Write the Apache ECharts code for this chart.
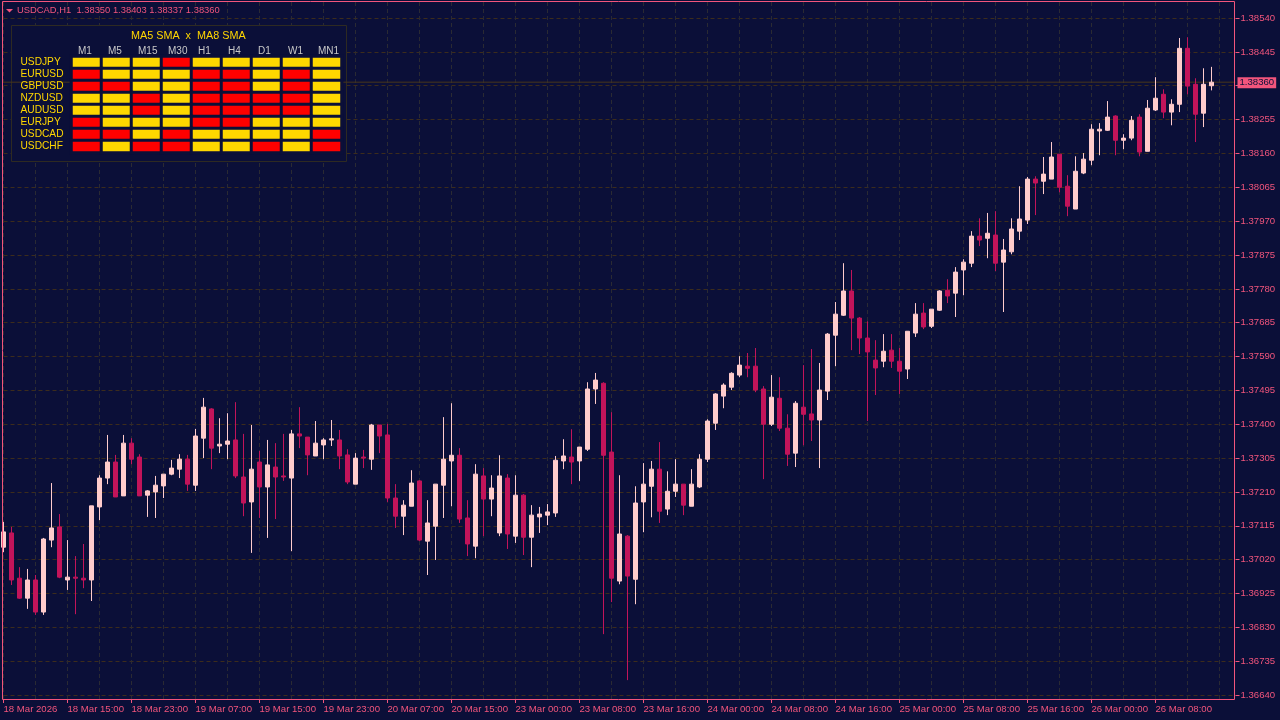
<!DOCTYPE html>
<html>
<head>
<meta charset="utf-8">
<style>html,body{margin:0;padding:0;background:#0b0f38}#c{width:1280px;height:720px}</style>
<script src="https://cdn.jsdelivr.net/npm/echarts@6/dist/echarts.min.js"></script>
</head>
<body>
<div id="c"></div>
<script>
const opens = [
1.37055,1.37095,1.36968,1.36912,1.36963,1.36873,1.37075,1.37112,1.36963,1.36971,
1.36968,1.36963,1.37168,1.37249,1.37294,1.37199,1.37347,1.37308,1.37201,1.37210,
1.37227,1.37260,1.37274,1.37302,1.37229,1.37361,1.37443,1.37339,1.37344,1.37356,
1.37252,1.37182,1.37294,1.37224,1.37280,1.37255,1.37249,1.37373,1.37364,1.37311,
1.37342,1.37356,1.37356,1.37314,1.37232,1.37308,1.37302,1.37398,1.37370,1.37193,
1.37142,1.37170,1.37241,1.37072,1.37114,1.37229,1.37297,1.37313,1.37137,1.37058,
1.37255,1.37190,1.37095,1.37249,1.37086,1.37201,1.37083,1.37140,1.37145,1.37151,
1.37297,1.37308,1.37297,1.37330,1.37499,1.37515,1.37322,1.36960,1.37086,1.36965,
1.37182,1.37226,1.37274,1.37162,1.37212,1.37232,1.37170,1.37224,1.37302,1.37403,
1.37479,1.37504,1.37538,1.37563,1.37563,1.37499,1.37400,1.37473,1.37389,1.37319,
1.37448,1.37429,1.37412,1.37493,1.37650,1.37706,1.37774,1.37698,1.37642,1.37580,
1.37577,1.37608,1.37577,1.37555,1.37656,1.37712,1.37675,1.37720,1.37776,1.37768,
1.37833,1.37852,1.37928,1.37922,1.37931,1.37855,1.37884,1.37942,1.37973,1.38088,
1.38082,1.38088,1.38158,1.38068,1.38004,1.38105,1.38141,1.38223,1.38225,1.38265,
1.38197,1.38203,1.38262,1.38166,1.38282,1.38326,1.38276,1.38298,1.38455,1.38354,
1.38273,1.38350];
const closes = [
1.37098,1.36963,1.36912,1.36963,1.36873,1.37078,1.37109,1.36971,1.36971,1.36968,
1.36963,1.37171,1.37249,1.37294,1.37196,1.37347,1.37302,1.37199,1.37213,1.37229,
1.37260,1.37277,1.37302,1.37232,1.37367,1.37448,1.37333,1.37344,1.37353,1.37255,
1.37179,1.37274,1.37224,1.37286,1.37252,1.37252,1.37373,1.37367,1.37314,1.37347,
1.37356,1.37359,1.37311,1.37238,1.37305,1.37305,1.37398,1.37367,1.37193,1.37142,
1.37173,1.37235,1.37075,1.37123,1.37232,1.37302,1.37313,1.37134,1.37064,1.37260,
1.37190,1.37221,1.37255,1.37092,1.37201,1.37083,1.37145,1.37148,1.37154,1.37299,
1.37311,1.37294,1.37336,1.37499,1.37524,1.37313,1.36968,1.37092,1.36974,1.37179,
1.37232,1.37274,1.37156,1.37212,1.37232,1.37173,1.37232,1.37302,1.37409,1.37485,
1.37510,1.37543,1.37566,1.37557,1.37496,1.37400,1.37476,1.37389,1.37316,1.37459,
1.37428,1.37412,1.37496,1.37653,1.37709,1.37774,1.37698,1.37642,1.37603,1.37558,
1.37605,1.37577,1.37549,1.37661,1.37709,1.37673,1.37723,1.37774,1.37760,1.37827,
1.37855,1.37928,1.37917,1.37936,1.37852,1.37889,1.37948,1.37976,1.38088,1.38077,
1.38102,1.38150,1.38065,1.38012,1.38110,1.38144,1.38228,1.38228,1.38262,1.38197,
1.38203,1.38253,1.38164,1.38287,1.38315,1.38276,1.38298,1.38455,1.38349,1.38270,
1.38354,1.38360];
const highs = [
1.37126,1.37112,1.36999,1.36994,1.36977,1.37081,1.37235,1.37148,1.37075,1.37030,
1.37064,1.37171,1.37257,1.37370,1.37314,1.37370,1.37361,1.37316,1.37215,1.37255,
1.37260,1.37300,1.37316,1.37314,1.37387,1.37474,1.37445,1.37417,1.37431,1.37462,
1.37373,1.37398,1.37325,1.37356,1.37347,1.37373,1.37384,1.37448,1.37364,1.37409,
1.37361,1.37412,1.37384,1.37330,1.37319,1.37328,1.37401,1.37398,1.37401,1.37232,
1.37187,1.37271,1.37243,1.37187,1.37232,1.37420,1.37459,1.37333,1.37187,1.37288,
1.37277,1.37257,1.37313,1.37260,1.37257,1.37204,1.37173,1.37168,1.37176,1.37311,
1.37358,1.37386,1.37336,1.37518,1.37544,1.37518,1.37434,1.37257,1.37089,1.37226,
1.37291,1.37297,1.37350,1.37268,1.37302,1.37232,1.37274,1.37316,1.37414,1.37487,
1.37515,1.37546,1.37591,1.37600,1.37614,1.37507,1.37538,1.37532,1.37428,1.37465,
1.37566,1.37611,1.37572,1.37656,1.37743,1.37852,1.37833,1.37701,1.37689,1.37636,
1.37653,1.37653,1.37614,1.37661,1.37740,1.37740,1.37723,1.37776,1.37807,1.37841,
1.37863,1.37942,1.37978,1.37993,1.37998,1.37920,1.37978,1.38068,1.38094,1.38096,
1.38150,1.38192,1.38158,1.38099,1.38152,1.38161,1.38242,1.38245,1.38307,1.38267,
1.38214,1.38265,1.38270,1.38310,1.38374,1.38340,1.38312,1.38484,1.38486,1.38371,
1.38399,1.38403];
const lows = [
1.37041,1.36949,1.36910,1.36882,1.36865,1.36865,1.37055,1.36968,1.36935,1.36867,
1.36940,1.36904,1.37131,1.37232,1.37196,1.37199,1.37288,1.37199,1.37140,1.37137,
1.37193,1.37257,1.37249,1.37213,1.37213,1.37305,1.37274,1.37319,1.37302,1.37249,
1.37142,1.37039,1.37137,1.37081,1.37134,1.37241,1.37044,1.37333,1.37257,1.37311,
1.37302,1.37339,1.37274,1.37232,1.37232,1.37277,1.37272,1.37319,1.37182,1.37109,
1.37089,1.37170,1.37072,1.36977,1.37019,1.37137,1.37170,1.37123,1.37030,1.37024,
1.37086,1.37142,1.37086,1.37050,1.37067,1.37033,1.36999,1.37095,1.37117,1.37140,
1.37274,1.37232,1.37241,1.37325,1.37457,1.36811,1.36901,1.36951,1.36682,1.36895,
1.37097,1.37139,1.37123,1.37145,1.37196,1.37145,1.37170,1.37221,1.37294,1.37384,
1.37445,1.37496,1.37532,1.37532,1.37490,1.37246,1.37395,1.37381,1.37283,1.37280,
1.37341,1.37353,1.37277,1.37468,1.37563,1.37704,1.37608,1.37597,1.37409,1.37482,
1.37560,1.37558,1.37485,1.37527,1.37645,1.37667,1.37670,1.37718,1.37740,1.37701,
1.37762,1.37841,1.37900,1.37866,1.37830,1.37715,1.37877,1.37917,1.37962,1.37987,
1.38046,1.38088,1.38051,1.37984,1.38004,1.38102,1.38127,1.38155,1.38223,1.38155,
1.38172,1.38197,1.38152,1.38166,1.38279,1.38259,1.38239,1.38276,1.38326,1.38192,
1.38234,1.38337];

const timeTicks = ['18 Mar 2026','18 Mar 15:00','18 Mar 23:00','19 Mar 07:00','19 Mar 15:00','19 Mar 23:00',
  '20 Mar 07:00','20 Mar 15:00','23 Mar 00:00','23 Mar 08:00','23 Mar 16:00','24 Mar 00:00','24 Mar 08:00',
  '24 Mar 16:00','25 Mar 00:00','25 Mar 08:00','25 Mar 16:00','26 Mar 00:00','26 Mar 08:00'];
const priceTicks = [1.36640,1.36735,1.36830,1.36925,1.37020,1.37115,1.37210,1.37305,1.37400,1.37495,1.37590,
  1.37685,1.37780,1.37875,1.37970,1.38065,1.38160,1.38255,1.38350,1.38445,1.38540];
const lastPrice = 1.38360;
const headerText = 'USDCAD,H1  1.38350 1.38403 1.38337 1.38360';

const panelTitle = 'MA5 SMA  x  MA8 SMA';
const timeframes = ['M1','M5','M15','M30','H1','H4','D1','W1','MN1'];
const pairs = ['USDJPY','EURUSD','GBPUSD','NZDUSD','AUDUSD','EURJPY','USDCAD','USDCHF'];
const signals = [
  [1,1,1,0,1,1,1,1,1],
  [0,1,1,1,0,0,1,0,1],
  [0,0,1,1,0,0,1,0,1],
  [1,1,0,1,0,0,0,0,1],
  [1,1,0,1,0,0,0,0,1],
  [0,1,1,1,0,0,1,1,1],
  [0,0,1,0,1,1,1,1,0],
  [0,1,0,0,1,1,0,1,0]
];

const BG='#0b0f38', PINK='#f2557c', UP='#ffcccc', DOWN='#c2145a', GOLD='#ffd700', RED='#ff0000';
const FONT='"Liberation Sans",Arial,sans-serif';
const H_GRID='#3c2c1c', V_GRID='#2a2a33';

const slots = 155;
const categories = Array.from({length:slots},(_,i)=> i%8===0 && timeTicks[i/8] ? timeTicks[i/8] : String(i));
const candles = opens.map((o,i)=>[o,closes[i],lows[i],highs[i]]);
const cells = [];
signals.forEach((row,r)=>row.forEach((v,c)=>cells.push({value:[c,r,v],itemStyle:{color:v?GOLD:RED}})));

const chart = echarts.init(document.getElementById('c'),null,{renderer:'canvas',width:1280,height:720});
chart.setOption({
  animation:false,
  backgroundColor:BG,
  title:[
    {text:headerText,left:17,top:5,padding:0,textStyle:{color:PINK,fontFamily:FONT,fontSize:9.4,fontWeight:'normal',lineHeight:11}},
    {text:panelTitle,left:131,top:30,padding:0,z:6,textStyle:{color:GOLD,fontFamily:FONT,fontSize:10.8,fontWeight:'normal',lineHeight:12}}
  ],
  graphic:{elements:[
    {type:'rect',z:1,shape:{x:11.5,y:25.5,width:335,height:136},style:{fill:BG,stroke:'#2e2a22',lineWidth:1}},
    {type:'rect',z:3,shape:{x:2.5,y:1.5,width:1232,height:698},style:{fill:'none',stroke:PINK,lineWidth:1}},
    {type:'polygon',z:3,shape:{points:[[6,9],[13,9],[9.5,12.5]]},style:{fill:PINK}}
  ]},
  grid:[
    {left:3.5,top:2,width:1232,height:697},
    {left:71.5,top:56.5,width:270,height:96},
    {left:78,top:56.5,width:240,height:96}
  ],
  xAxis:[
    {type:'category',gridIndex:0,data:categories,boundaryGap:false,
     axisLine:{show:false},
     axisTick:{show:true,interval:(i,v)=>timeTicks.includes(v),length:4,lineStyle:{color:PINK}},
     axisLabel:{interval:7,align:'left',color:PINK,fontFamily:FONT,fontSize:9.6,margin:5,showMinLabel:true,hideOverlap:false,
       formatter:v=>timeTicks.includes(v)?v:''},
     splitLine:{show:true,interval:3,lineStyle:{color:V_GRID,type:[4,3],width:1}}},
    {type:'category',gridIndex:1,data:timeframes,show:false},
    {type:'category',gridIndex:2,data:timeframes,boundaryGap:false,position:'top',z:5,
     axisLine:{show:false},axisTick:{show:false},splitLine:{show:false},
     axisLabel:{interval:0,align:'left',color:'#c8c8c8',fontFamily:FONT,fontSize:10,margin:0}}
  ],
  yAxis:[
    {type:'value',gridIndex:0,position:'right',min:1.36629,max:1.38585,scale:true,
     axisLine:{show:false},
     axisTick:{show:true,length:4,customValues:priceTicks,lineStyle:{color:PINK}},
     axisLabel:{customValues:priceTicks,color:PINK,fontFamily:FONT,fontSize:9.6,margin:5,formatter:v=>v.toFixed(5)},
     splitLine:{show:true,lineStyle:{color:H_GRID,type:[4,3],width:1}}},
    {type:'category',gridIndex:1,data:pairs,inverse:true,z:5,
     axisLine:{show:false},axisTick:{show:false},splitLine:{show:false},
     axisLabel:{interval:0,align:'left',color:GOLD,fontFamily:FONT,fontSize:10.2,margin:51}},
    {type:'value',gridIndex:2,show:false,min:0,max:1}
  ],
  series:[
    {type:'line',xAxisIndex:0,yAxisIndex:0,data:[[0,lastPrice],[slots-1,lastPrice]],showSymbol:false,silent:true,z:1,
     lineStyle:{color:'#48361c',type:'solid',width:1},
     endLabel:{show:true,distance:2,offset:[0,0.5],formatter:()=>lastPrice.toFixed(5),valueAnimation:false,
       backgroundColor:PINK,color:BG,fontFamily:FONT,fontSize:9.6,padding:[1,2,0,2],lineHeight:10}},
    {type:'candlestick',xAxisIndex:0,yAxisIndex:0,data:candles,barWidth:5,clip:true,z:2,
     itemStyle:{color:UP,color0:DOWN,borderColor:UP,borderColor0:DOWN,borderWidth:1}},
    {type:'heatmap',xAxisIndex:1,yAxisIndex:1,data:cells,z:4,
     itemStyle:{borderColor:BG,borderWidth:3},emphasis:{disabled:true}}
  ]
});
</script>
</body>
</html>
